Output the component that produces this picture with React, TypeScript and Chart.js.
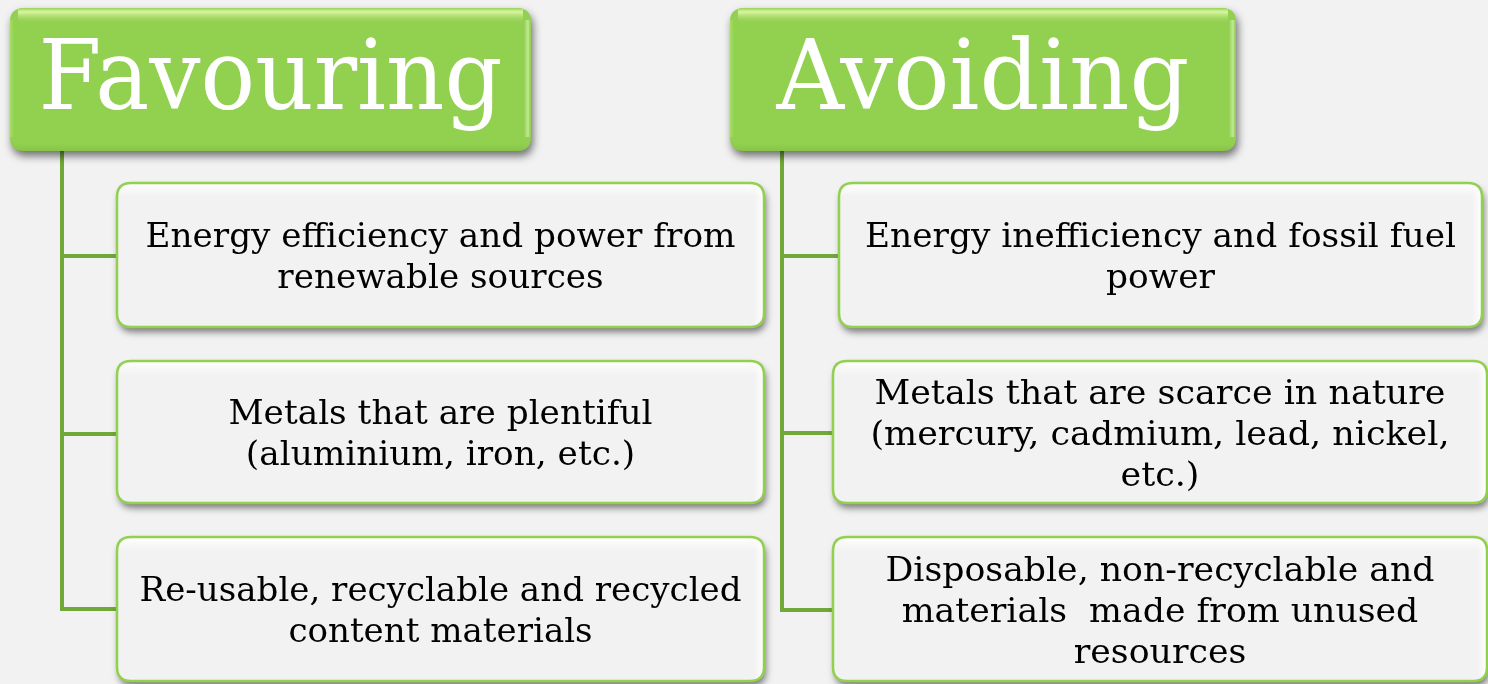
import React, { useEffect, useRef } from "react";
import { Chart, registerables } from "chart.js";

Chart.register(...registerables);

// ---- content ----
const headings = ["Favouring", "Avoiding"];
const favouringItems: string[][] = [
  ["Energy efficiency and power from", "renewable sources"],
  ["Metals that are plentiful", "(aluminium, iron, etc.)"],
  ["Re-usable, recyclable and recycled", "content materials"],
];
const avoidingItems: string[][] = [
  ["Energy inefficiency and fossil fuel", "power"],
  ["Metals that are scarce in nature", "(mercury, cadmium, lead, nickel,", "etc.)"],
  ["Disposable, non-recyclable and", "materials  made from unused", "resources"],
];

// ---- layout (in scale units, 0..1488 x 0..684) ----
const W = 1488;
const H = 684;
const headerBoxes = [
  { x0: 10, x1: 531, y0: 8, y1: 151, textW: 464 },
  { x0: 730, x1: 1236, y0: 8, y1: 151, textW: 413 },
];
const itemRows = [
  { y0: 183, y1: 327 },
  { y0: 361, y1: 503 },
  { y0: 537, y1: 681 },
];
const columnLayout = [
  { spineX: 62, branchY: [256, 434, 609], boxX: [[117, 764], [117, 764], [117, 764]], textW: [590, 424, 602] },
  { spineX: 782, branchY: [256, 433, 610], boxX: [[839, 1482], [833, 1487], [833, 1487]], textW: [591, 579, 549] },
];
const HEADER_BASELINE = 109;
const ITEM_FONT = 34;
const HEADER_FONT = 98;
const LINE_H = 41;
const FONT_FAMILY = "'DejaVu Serif', 'Liberation Serif', serif";
const GREEN = "#92d050";
const LINE_GREEN = "#70a83a";
const BG = "#f2f2f2";

function roundRect(ctx: CanvasRenderingContext2D, x: number, y: number, w: number, h: number, r: number) {
  ctx.beginPath();
  ctx.moveTo(x + r, y);
  ctx.lineTo(x + w - r, y);
  ctx.quadraticCurveTo(x + w, y, x + w, y + r);
  ctx.lineTo(x + w, y + h - r);
  ctx.quadraticCurveTo(x + w, y + h, x + w - r, y + h);
  ctx.lineTo(x + r, y + h);
  ctx.quadraticCurveTo(x, y + h, x, y + h - r);
  ctx.lineTo(x, y + r);
  ctx.quadraticCurveTo(x, y, x + r, y);
  ctx.closePath();
}

const diagramPlugin = {
  id: "diagram",
  beforeDraw(chart: any) {
    const ctx: CanvasRenderingContext2D = chart.ctx;
    ctx.save();
    ctx.fillStyle = BG;
    ctx.fillRect(0, 0, chart.width, chart.height);
    ctx.restore();
  },
  afterDatasetsDraw(chart: any) {
    const ctx: CanvasRenderingContext2D = chart.ctx;
    const xs = chart.scales.x;
    const ys = chart.scales.y;
    const px = (v: number) => xs.getPixelForValue(v);
    const py = (v: number) => ys.getPixelForValue(v);
    const columns = [favouringItems, avoidingItems];

    // connectors
    ctx.save();
    ctx.strokeStyle = LINE_GREEN;
    ctx.lineWidth = 4;
    ctx.lineCap = "butt";
    columnLayout.forEach((col, ci) => {
      const hb = headerBoxes[ci];
      const last = col.branchY[col.branchY.length - 1];
      ctx.beginPath();
      ctx.moveTo(px(col.spineX), py(hb.y1));
      ctx.lineTo(px(col.spineX), py(last) + 2);
      ctx.stroke();
      col.branchY.forEach((by, i) => {
        ctx.beginPath();
        ctx.moveTo(px(col.spineX) - 2, py(by));
        ctx.lineTo(px(col.boxX[i][0]), py(by));
        ctx.stroke();
      });
    });
    ctx.restore();

    // header boxes
    headings.forEach((title, i) => {
      const b = headerBoxes[i];
      const x = px(b.x0), y = py(b.y0), w = px(b.x1) - x, h = py(b.y1) - y;
      ctx.save();
      ctx.shadowColor = "rgba(0,0,0,0.55)";
      ctx.shadowBlur = 8;
      ctx.shadowOffsetX = 2;
      ctx.shadowOffsetY = 5;
      roundRect(ctx, x, y, w, h, 14);
      ctx.fillStyle = GREEN;
      ctx.fill();
      ctx.restore();
      ctx.save();
      roundRect(ctx, x, y, w, h, 14);
      ctx.clip();
      const g = ctx.createLinearGradient(0, y, 0, y + 16);
      g.addColorStop(0, "rgba(150,210,90,1)");
      g.addColorStop(0.25, "rgba(225,250,170,0.9)");
      g.addColorStop(1, "rgba(146,208,80,0)");
      ctx.fillStyle = g;
      ctx.fillRect(x + 8, y, w - 16, 16);
      const gr = ctx.createLinearGradient(x + w - 7, 0, x + w, 0);
      gr.addColorStop(0, "rgba(255,255,255,0)");
      gr.addColorStop(0.6, "rgba(235,255,210,0.55)");
      gr.addColorStop(1, "rgba(146,208,80,0)");
      ctx.fillStyle = gr;
      ctx.fillRect(x + w - 7, y + 12, 7, h - 26);
      const gl = ctx.createLinearGradient(x, 0, x + 6, 0);
      gl.addColorStop(0, "rgba(170,225,110,0.9)");
      gl.addColorStop(1, "rgba(146,208,80,0)");
      ctx.fillStyle = gl;
      ctx.fillRect(x, y + 12, 6, h - 26);
      const gb = ctx.createLinearGradient(0, y + h - 10, 0, y + h);
      gb.addColorStop(0, "rgba(146,208,80,0)");
      gb.addColorStop(1, "rgba(120,180,60,0.5)");
      ctx.fillStyle = gb;
      ctx.fillRect(x, y + h - 10, w, 10);
      ctx.restore();

      ctx.save();
      ctx.font = `${HEADER_FONT}px ${FONT_FAMILY}`;
      ctx.fillStyle = "#ffffff";
      ctx.textAlign = "center";
      ctx.textBaseline = "alphabetic";
      const tw = ctx.measureText(title).width;
      const sx = b.textW / tw;
      ctx.translate(x + w / 2, py(HEADER_BASELINE));
      ctx.scale(sx, 1);
      ctx.fillText(title, 0, 0);
      ctx.restore();
    });

    // item boxes
    columns.forEach((items, ci) => {
      const col = columnLayout[ci];
      items.forEach((lines, ri) => {
        const row = itemRows[ri];
        const x = px(col.boxX[ri][0]);
        const y = py(row.y0);
        const w = px(col.boxX[ri][1]) - x;
        const h = py(row.y1) - y;
        ctx.save();
        ctx.shadowColor = "rgba(0,0,0,0.5)";
        ctx.shadowBlur = 7;
        ctx.shadowOffsetX = 2;
        ctx.shadowOffsetY = 5;
        roundRect(ctx, x, y, w, h, 14);
        ctx.fillStyle = BG;
        ctx.fill();
        ctx.restore();
        ctx.save();
        roundRect(ctx, x, y, w, h, 14);
        ctx.clip();
        const g = ctx.createLinearGradient(0, y, 0, y + 14);
        g.addColorStop(0, "rgba(255,255,255,1)");
        g.addColorStop(1, "rgba(255,255,255,0)");
        ctx.fillStyle = g;
        ctx.fillRect(x, y, w, 14);
        const gr = ctx.createLinearGradient(x + w - 10, 0, x + w, 0);
        gr.addColorStop(0, "rgba(255,255,255,0)");
        gr.addColorStop(1, "rgba(255,255,255,1)");
        ctx.fillStyle = gr;
        ctx.fillRect(x + w - 10, y, 10, h);
        ctx.restore();
        ctx.save();
        roundRect(ctx, x, y, w, h, 14);
        ctx.strokeStyle = GREEN;
        ctx.lineWidth = 2.5;
        ctx.stroke();
        ctx.restore();

        ctx.save();
        ctx.font = `${ITEM_FONT}px ${FONT_FAMILY}`;
        ctx.fillStyle = "#000000";
        ctx.textAlign = "center";
        ctx.textBaseline = "alphabetic";
        const maxW = Math.max(...lines.map((l) => ctx.measureText(l).width));
        const sx = col.textW[ri] / maxW;
        const cy = (row.y0 + row.y1) / 2;
        const cx = x + w / 2;
        lines.forEach((l, li) => {
          const base = cy + (li - (lines.length - 1) / 2) * LINE_H + 12.5;
          ctx.save();
          ctx.translate(cx, py(base));
          ctx.scale(sx, 1);
          ctx.fillText(l, 0, 0);
          ctx.restore();
        });
        ctx.restore();
      });
    });
  },
};

export default function App() {
  const ref = useRef<HTMLCanvasElement | null>(null);
  useEffect(() => {
    if (!ref.current) return;
    const anchors = [
      ...headerBoxes.map((b) => ({ x: (b.x0 + b.x1) / 2, y: (b.y0 + b.y1) / 2 })),
    ];
    const chart = new Chart(ref.current, {
      type: "scatter",
      data: {
        datasets: [
          {
            label: "anchors",
            data: anchors,
            pointRadius: 0,
            pointHoverRadius: 0,
          },
        ],
      },
      options: {
        animation: false,
        responsive: false,
        maintainAspectRatio: false,
        layout: { padding: 0 },
        events: [],
        plugins: { legend: { display: false }, tooltip: { enabled: false } },
        scales: {
          x: { type: "linear", min: 0, max: W, display: false },
          y: { type: "linear", min: 0, max: H, reverse: true, display: false },
        },
      },
      plugins: [diagramPlugin],
    });
    return () => chart.destroy();
  }, []);
  return (
    <div style={{ position: "fixed", left: 0, top: 0, width: W, height: H, background: BG }}>
      <canvas ref={ref} width={W} height={H} style={{ display: "block" }} />
    </div>
  );
}
